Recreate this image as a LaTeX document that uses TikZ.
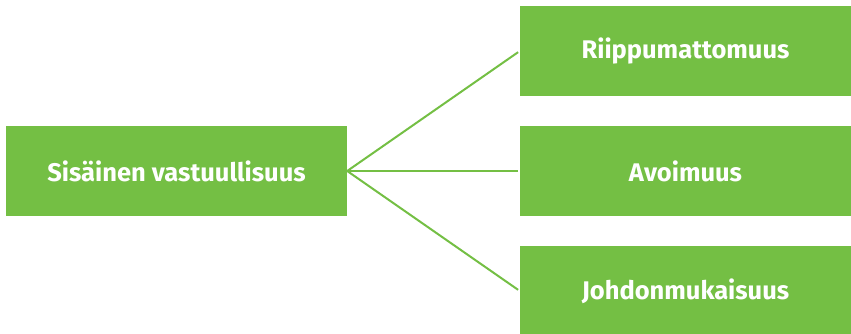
\documentclass[tikz,border=0pt]{standalone}
\usepackage{fontspec}
\setmainfont{Fira Sans}
\usepackage{tikz}
\usetikzlibrary{positioning}
\definecolor{vihrea}{RGB}{116,191,68}

\begin{document}
\begin{tikzpicture}[x=1pt,y=-1pt]
    \tikzstyle{laatikko}=[fill=vihrea, text=white, inner sep=0pt, font=\fontsize{25.5}{28}\selectfont\bfseries]
    \tikzstyle{viiva}=[draw=vihrea, line width=2pt, shorten >=2pt]
    \useasboundingbox (0,0) rectangle (851,334);
    \clip (0,0) rectangle (851,334);
    \node [laatikko, minimum width=341pt, minimum height=90pt] (sis) at (176.5,171) {Sisäinen vastuullisuus};
    \node [laatikko, minimum width=331pt, minimum height=90pt] (rii) at (685.5,51) {Riippumattomuus};
    \node [laatikko, minimum width=331pt, minimum height=90pt] (avo) at (685.5,171) {Avoimuus};
    \node [laatikko, minimum width=331pt, minimum height=90pt] (joh) at (685.5,291) {Johdonmukaisuus};
    % yhdysviivat
    \draw [viiva] (sis.east) -- (rii.west);
    \draw [viiva] (sis.east) -- (avo.west);
    \draw [viiva] (sis.east) -- (joh.west);
\end{tikzpicture}
\end{document}
